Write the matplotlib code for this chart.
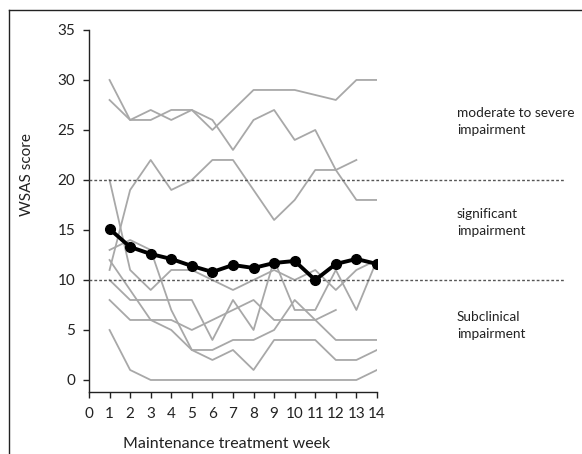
import numpy as np
import matplotlib.pyplot as plt
from matplotlib.lines import Line2D

plt.rcParams['font.family'] = ['Lato', 'DejaVu Sans']

weeks = np.arange(1, 15)
nan = np.nan

# individual WSAS scores per patient (weeks 1-14)
patient_1 = [30, 26, 27, 26, 27, 25, 27, 29, 29, 29, nan, 28, 30, 30]
patient_2 = [28, 26, 26, 27, 27, 26, 23, 26, 27, 24, 25, 21, 18, 18]
patient_3 = [11, 19, 22, 19, 20, 22, 22, 19, 16, 18, 21, 21, 22, nan]
patient_4 = [20, 11, 9, 11, 11, 10, 9, 10, 11, 10, 11, 9, 11, 12]
patient_5 = [13, 14, 13, 7, 3, 3, 4, 4, 5, 8, 6, 4, 4, 4]
patient_6 = [12, 9, 6, 6, 5, 6, 7, 8, 6, 6, 6, 7, nan, nan]
patient_7 = [10, 8, 8, 8, 8, 4, 8, 5, 12, 7, 7, 11, 7, 12]
patient_8 = [8, 6, 6, 5, 3, 2, 3, 1, 4, 4, 4, 2, 2, 3]
patient_9 = [5, 1, 0, 0, 0, 0, 0, 0, 0, 0, 0, 0, 0, 1]
patients = [patient_1, patient_2, patient_3, patient_4, patient_5,
            patient_6, patient_7, patient_8, patient_9]

mean_score = [15.1, 13.3, 12.6, 12.1, 11.4, 10.8, 11.5, 11.2, 11.7, 11.9,
              10.0, 11.6, 12.1, 11.6]

cutoffs = [10, 20]
bands = ['Subclinical\nimpairment', 'significant\nimpairment',
         'moderate to severe\nimpairment']

fig = plt.figure(figsize=(5.82, 4.54), dpi=100)
ax = fig.add_axes([0.1529, 0.1366, 0.4948, 0.7974])

for p in patients:
    arr = np.array(p, dtype=float)
    ok = ~np.isnan(arr)
    ax.plot(weeks[ok], arr[ok], color='#a8a8a8', lw=1.3, zorder=2)

ax.plot(weeks, mean_score, color='black', lw=2.8, marker='o', ms=7, zorder=4)

for c in cutoffs:
    ax.plot([0, 23.1], [c, c], color='#555555', lw=1.0,
            linestyle=(0, (2, 1.5)), clip_on=False, zorder=3)

ax.set_xlim(0, 14)
ax.set_ylim(-1.2, 35)
ax.set_xticks(range(0, 15))
ax.set_yticks(range(0, 36, 5))
ax.spines['top'].set_visible(False)
ax.spines['right'].set_visible(False)
ax.spines['left'].set_bounds(-1.2, 35)
for s in ['left', 'bottom']:
    ax.spines[s].set_linewidth(1.0)
    ax.spines[s].set_color('#222222')
ax.tick_params(axis='both', length=4, width=1.0, color='#222222',
               labelsize=11, labelcolor='#222222')
ax.tick_params(axis='x', pad=7)
ax.tick_params(axis='y', pad=6)

ax.set_ylabel('WSAS score', fontsize=11, color='#222222')
ax.yaxis.set_label_coords(-0.19, 0.6)
ax.set_xlabel('Maintenance treatment week', fontsize=11.5, color='#222222')
ax.xaxis.set_label_coords(0.477, -0.125)

band_y = [0.283, 0.509, 0.732]
for label, y in zip(bands, band_y):
    fig.text(0.785, y, label, fontsize=9.8, va='center', ha='left',
             color='#222222', linespacing=1.5)

# frame around the figure (left and top edges only)
fig.add_artist(Line2D([0.016, 0.016], [0.0, 0.977], color='#222222', lw=1.0))
fig.add_artist(Line2D([0.016, 1.0], [0.977, 0.977], color='#222222', lw=1.0))

fig.savefig('out.png', dpi=100)
